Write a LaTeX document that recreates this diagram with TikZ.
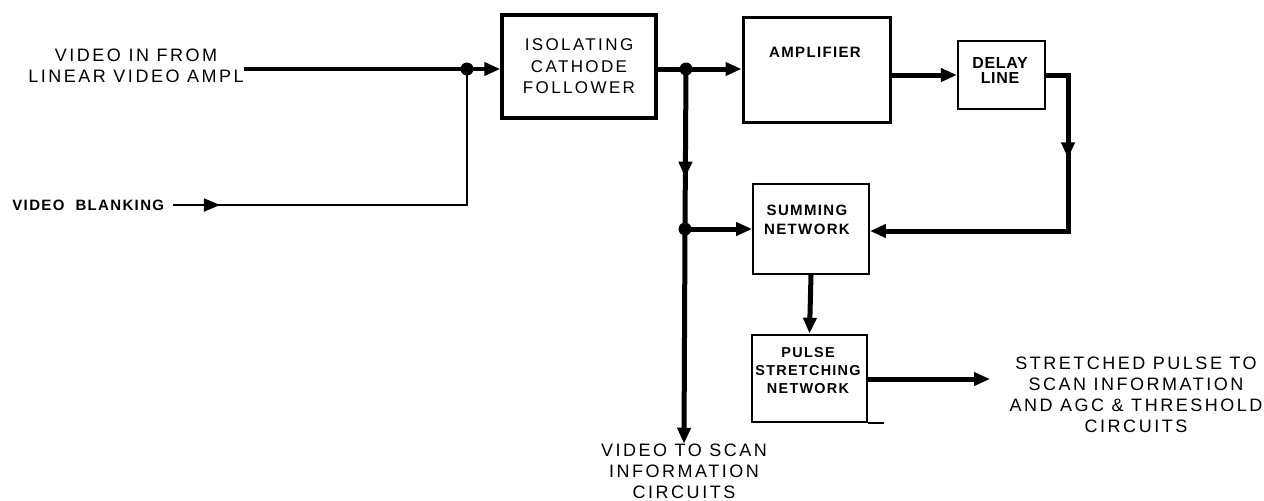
\documentclass[tikz,border=0pt]{standalone}
\usepackage{fontspec}
\setmainfont{Liberation Sans}
\newfontfamily\lblfont[LetterSpace=14]{Liberation Sans}
\newfontfamily\boxfont[LetterSpace=9]{Liberation Sans}
\newfontfamily\dlyfont[LetterSpace=4]{Liberation Sans}
\usetikzlibrary{arrows.meta,decorations.markings}
\begin{document}
\begin{tikzpicture}[x=0.5pt,y=-0.5pt,
  lbl/.style={font=\fontsize{9}{10.5}\lblfont, align=center, inner sep=0pt},
  ictext/.style={font=\fontsize{8.5}{10.75}\lblfont},
  btext/.style={font=\fontsize{7.5}{9.5}\boxfont\bfseries, align=center, inner sep=0pt},
  box/.style={draw, line width=1.5pt, inner sep=0pt, align=center},
  conn/.style={line width=2.5pt},
  thinconn/.style={line width=0.9pt},
  tip/.style={-{Triangle[length=8pt,width=6.5pt]}},
  midarr/.style={postaction={decorate}, decoration={markings,
      mark=at position #1 with {\arrow{Triangle[length=8pt,width=6.5pt]}}}},
  dot/.style={fill, circle, inner sep=0pt, minimum size=6.5pt}
]
\useasboundingbox (0,0) rectangle (1264,500);

% text labels
\node[lbl] (vin) at (136,66) {VIDEO IN FROM\\LINEAR VIDEO AMPL};
\node[btext, anchor=west] (vb) at (12,205) {VIDEO\ \ BLANKING};
\node[lbl] (vout) at (684,471.5) {VIDEO TO SCAN\\INFORMATION\\CIRCUITS};
\node[lbl] (sp) at (1136,394.5) {STRETCHED PULSE TO\\SCAN INFORMATION\\AND AGC \& THRESHOLD\\CIRCUITS};

% boxes
\node[box, ictext, line width=1.7pt, minimum width=77pt, minimum height=51.5pt] (icf) at (579,66.5) {ISOLATING\\CATHODE\\FOLLOWER};
\node[box, minimum width=73.5pt, minimum height=52.5pt] (amp) at (816.5,69.5) {};
\node[btext] (ampt) at (815,52) {AMPLIFIER};
\node[box, line width=1.1pt, minimum width=43.5pt, minimum height=34pt] (dly) at (1001.5,75) {};
\node[btext, font=\fontsize{8}{7.5}\dlyfont\bfseries] (dlyt) at (1000,70) {DELAY\\LINE};
\node[box, line width=0.9pt, minimum width=58pt, minimum height=45pt] (sum) at (811,229) {};
\node[btext] (sumt) at (807,219.5) {SUMMING\\NETWORK};
\node[box, line width=1.3pt, minimum width=57.5pt, minimum height=43.5pt] (pls) at (809.5,378.5) {};
\node[btext, font=\fontsize{7.2}{9}\boxfont\bfseries] (plst) at (808,371) {PULSE\\STRETCHING\\NETWORK};

% junctions
\coordinate (j1) at (467,69);
\coordinate (j2) at (686,69);
\coordinate (j3) at (685,229);
\coordinate (c1) at (1068,75);
\coordinate (c2) at (1068,231);
\coordinate (pend) at (990,379);

% connectors
\draw[line width=2pt] (vin.east |- j1) -- (j1);
\draw[line width=2pt, tip] (j1) -- (j1 -| icf.west);
\draw[thinconn, midarr=0.11] (vb.east) ++(4pt,0) -- (vb.east -| j1) ++(0,1) -- (j1);
\draw[conn] (icf.east |- j2) -- (j2);
\draw[conn, tip] (j2) -- (j2 -| amp.west);
\draw[conn, midarr=0.29, tip] (j2) -- (j3) -- (vout.north);
\draw[conn, tip] (j3) -- (j3 -| sum.west);
\draw[conn, tip] (amp.east |- dly.west) -- (dly.west);
\draw[conn, midarr=0.28, tip] (dly.east) -- (c1) -- (c2) -- (c2 -| sum.east);
\draw[conn, tip] (sum.south) -- (pls.north);
\draw[conn, tip] (pls.east |- pend) -- (pend);
\draw[line width=1pt] (pls.south east) -- ++(16,0);

\node[dot] at (j1) {};
\node[dot] at (j2) {};
\node[dot] at (j3) {};
\end{tikzpicture}
\end{document}
